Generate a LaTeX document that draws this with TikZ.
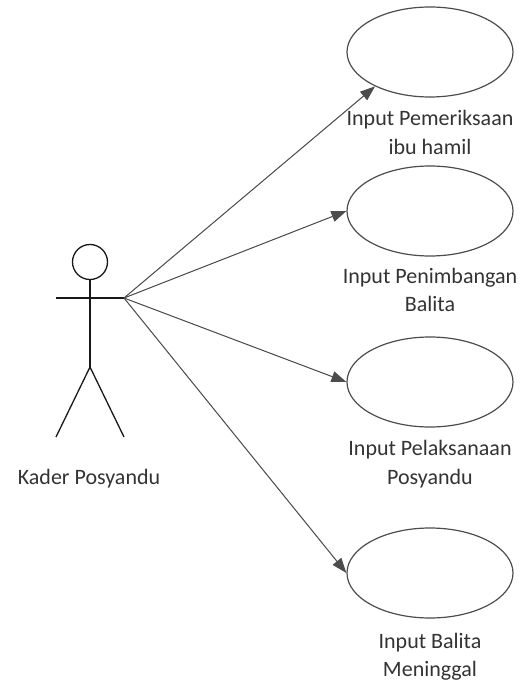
\documentclass[tikz,border=0pt]{standalone}
\usepackage{fontspec}
\setmainfont{Carlito}
\usetikzlibrary{shapes.geometric,arrows.meta}
\begin{document}
\begin{tikzpicture}[x=1pt,y=-1pt,
  every node/.style={font=\fontsize{22}{28.5}\selectfont,text=black!80},
  usecase/.style={draw=black!70,line width=1.2pt,ellipse,minimum width=166pt,minimum height=90pt,inner sep=0pt},
  actorline/.style={draw=black!90,line width=1.3pt},
  assoc/.style={-{Triangle[length=15pt,width=11pt]},draw=black!70,fill=black!75,line width=1pt}]
\useasboundingbox (0,0) rectangle (524,684);
% actor
\draw[actorline] (90,262) circle[radius=17.5];
\draw[actorline] (90,279.5) -- (90,367) coordinate (hip);
\draw[actorline] (56,298) -- (124,298) coordinate (hand);
\draw[actorline] (56,437) -- (hip) -- (124,437);
\node (actor) at (89,478.5) {Kader Posyandu};
% use cases
\node[usecase] (u1) at (430,52) {};
\node[usecase] (u2) at (430,211) {};
\node[usecase] (u3) at (430,382) {};
\node[usecase] (u4) at (430,573) {};
\node[align=center] (l1) at (430,132.5) {Input Pemeriksaan\\ibu hamil};
\node[align=center] (l2) at (430,290) {Input Penimbangan\\Balita};
\node[align=center] (l3) at (430,464) {Input Pelaksanaan\\Posyandu};
\node[align=center] (l4) at (430,656.5) {Input Balita\\Meninggal};
% associations
\draw[assoc] (hand) -- (u1.212);
\draw[assoc] (hand) -- (u2.west);
\draw[assoc] (hand) -- (u3.west);
\draw[assoc] (hand) -- (u4.west);
\end{tikzpicture}
\end{document}
